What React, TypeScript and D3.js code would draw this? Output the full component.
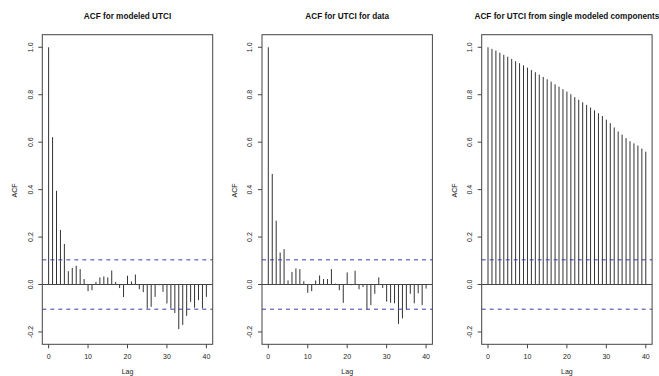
import React from "react";
import * as d3 from "d3";

const lags: number[] = d3.range(0, 41);

const titles: string[] = [
  "ACF for modeled UTCI",
  "ACF for UTCI for data",
  "ACF for UTCI from single modeled components",
];

const acfModeled: number[] = [
  1.0, 0.621, 0.395, 0.23, 0.171, 0.056, 0.07, 0.079, 0.065, 0.023,
  -0.028, -0.024, 0.011, 0.03, 0.034, 0.03, 0.059, 0.011, -0.015, -0.053,
  0.037, 0.013, 0.042, -0.02, -0.032, -0.101, -0.094, -0.052, -0.003, -0.031,
  -0.08, -0.101, -0.12, -0.188, -0.17, -0.132, -0.073, -0.098, -0.066, -0.101,
  -0.052,
];

const acfData: number[] = [
  1.0, 0.466, 0.269, 0.135, 0.149, 0.017, 0.053, 0.068, 0.065, 0.014,
  -0.035, -0.028, 0.017, 0.038, 0.023, 0.023, 0.065, 0.004, -0.024, -0.077,
  0.051, -0.003, 0.058, -0.02, -0.011, -0.105, -0.087, -0.039, 0.03, -0.015,
  -0.072, -0.077, -0.079, -0.166, -0.143, -0.105, -0.039, -0.079, -0.037, -0.087,
  -0.017,
];

const acfComponents: number[] = [
  1.0, 0.993, 0.986, 0.977, 0.968, 0.96, 0.951, 0.941, 0.933, 0.924,
  0.914, 0.904, 0.895, 0.885, 0.875, 0.865, 0.855, 0.844, 0.834, 0.823,
  0.813, 0.802, 0.79, 0.779, 0.768, 0.757, 0.746, 0.734, 0.722, 0.71,
  0.695, 0.68, 0.662, 0.645, 0.632, 0.617, 0.604, 0.595, 0.586, 0.573,
  0.56,
];

const series: number[][] = [acfModeled, acfData, acfComponents];
const ciBound = 0.104;
const yTicks: number[] = [-0.2, 0, 0.2, 0.4, 0.6, 0.8, 1.0];
const xTicks: number[] = [0, 10, 20, 30, 40];

const FONT = "'Liberation Sans', Arial, sans-serif";

function Panel({ index }: { index: number }) {
  const left = 42.3 + index * 219.7;
  const width = 170.4;
  const top = 34.7;
  const bottom = 344.3;
  const x = d3.scaleLinear().domain([-1.6, 41.6]).range([left, left + width]);
  const y = d3.scaleLinear().domain([-0.252, 1.053]).range([bottom, top]);
  const vals = series[index];
  const cx = left + width / 2;
  return (
    <g>
      <text
        x={cx}
        y={16.7}
        textAnchor="middle"
        dominantBaseline="middle"
        fontFamily={FONT}
        fontWeight="bold"
        fontSize={8.2}
        fill="#111"
      >
        {titles[index]}
      </text>
      {/* bars */}
      {lags.map((lag, i) => (
        <line
          key={lag}
          x1={x(lag)}
          x2={x(lag)}
          y1={y(0)}
          y2={y(vals[i])}
          stroke="#333"
          strokeWidth={1}
        />
      ))}
      {/* zero line */}
      <line x1={left} x2={left + width} y1={y(0)} y2={y(0)} stroke="#444" strokeWidth={1} />
      {/* CI lines */}
      {[ciBound, -ciBound].map((c) => (
        <line
          key={c}
          x1={left}
          x2={left + width}
          y1={y(c)}
          y2={y(c)}
          stroke="#3c3caa"
          strokeWidth={1}
          strokeDasharray="4,4"
        />
      ))}
      {/* box */}
      <rect x={left} y={top} width={width} height={bottom - top} fill="none" stroke="#444" strokeWidth={1} />
      {/* y axis */}
      {yTicks.map((t) => (
        <g key={t}>
          <line x1={left - 4} x2={left} y1={y(t)} y2={y(t)} stroke="#444" strokeWidth={1} />
          <text
            transform={`translate(${left - 11.5},${y(t)}) rotate(-90)`}
            textAnchor="middle"
            dominantBaseline="middle"
            fontFamily={FONT}
            fontSize={7}
            fill="#222"
          >
            {t.toFixed(1)}
          </text>
        </g>
      ))}
      {/* x axis */}
      {xTicks.map((t) => (
        <g key={t}>
          <line x1={x(t)} x2={x(t)} y1={bottom} y2={bottom + 4} stroke="#444" strokeWidth={1} />
          <text
            x={x(t)}
            y={357.3}
            textAnchor="middle"
            dominantBaseline="middle"
            fontFamily={FONT}
            fontSize={7}
            fill="#222"
          >
            {t}
          </text>
        </g>
      ))}
      <text
        x={cx}
        y={372}
        textAnchor="middle"
        dominantBaseline="middle"
        fontFamily={FONT}
        fontSize={7}
        fill="#222"
      >
        Lag
      </text>
      <text
        transform={`translate(${left - 27},${(top + bottom) / 2 + 1}) rotate(-90)`}
        textAnchor="middle"
        dominantBaseline="middle"
        fontFamily={FONT}
        fontSize={7}
        fill="#222"
      >
        ACF
      </text>
    </g>
  );
}

export default function App() {
  return (
    <svg
      width={659}
      height={376}
      style={{ position: "absolute", left: 0, top: 0, background: "#fff" }}
    >
      <rect x={0} y={0} width={659} height={376} fill="#fff" />
      {[0, 1, 2].map((i) => (
        <Panel key={i} index={i} />
      ))}
    </svg>
  );
}
